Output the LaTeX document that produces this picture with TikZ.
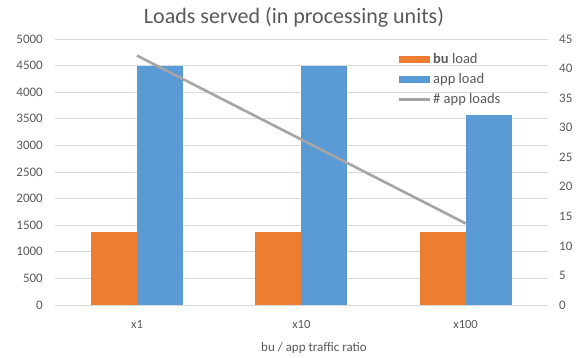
\documentclass[tikz,border=0pt]{standalone}
\usepackage{fontspec}
\setmainfont{Carlito}
\definecolor{txt}{HTML}{595959}
\definecolor{gridc}{HTML}{D9D9D9}
\definecolor{bu}{HTML}{ED7D31}
\definecolor{app}{HTML}{5B9BD5}
\definecolor{cnt}{HTML}{A5A5A5}
\begin{document}
\begin{tikzpicture}[x=1pt,y=1pt,
  tick/.style={text=txt,font=\fontsize{13}{13}\selectfont,inner sep=0pt},
  ltick/.style={tick,anchor=east},
  rtick/.style={tick,anchor=west},
  ctick/.style={tick,anchor=center,font=\fontsize{12.5}{12.5}\selectfont},
  legtext/.style={tick,anchor=west,font=\fontsize{14.5}{14.5}\selectfont},
  gridline/.style={draw=gridc,line width=0.8pt},
  bubar/.style={fill=bu,draw=none},
  appbar/.style={fill=app,draw=none},
  cntline/.style={draw=cnt,line width=2.6pt}]
\useasboundingbox (0,0) rectangle (578,358);
% gridlines and left ticks: y0 = 53, 500 -> 26.6
\foreach \i in {0,...,10}{
  \pgfmathsetmacro{\yy}{53+26.6*\i}
  \pgfmathtruncatemacro{\lv}{500*\i}
  \draw[gridline] (55,\yy) -- (548,\yy);
  \node[ltick] (l\i) at (43,\yy) {\lv};
}
% right ticks: 0..45 over the same height
\foreach \i in {0,...,9}{
  \pgfmathsetmacro{\yy}{53+29.5556*\i}
  \pgfmathtruncatemacro{\rv}{5*\i}
  \node[rtick] (r\i) at (559,\yy) {\rv};
}
% bars
\pgfmathsetmacro{\bu}{53+1378*0.0532}
\fill[bubar] (91,53) rectangle (137,\bu);
\fill[appbar] (137,53) rectangle (183,{53+4500*0.0532});
\fill[bubar] (255.3,53) rectangle (301.3,\bu);
\fill[appbar] (301.3,53) rectangle (347.3,{53+4500*0.0532});
\fill[bubar] (419.6,53) rectangle (465.6,\bu);
\fill[appbar] (465.6,53) rectangle (511.6,{53+3575*0.0532});
% line
\coordinate (p1) at (137,302.4);
\coordinate (p2) at (301.3,218.5);
\coordinate (p3) at (465.6,134.6);
\draw[cntline] (p1) -- (p2) -- (p3);
% category labels
\node[ctick] (c1) at (137,34) {x1};
\node[ctick] (c2) at (301.3,34) {x10};
\node[ctick] (c3) at (465.6,34) {x100};
\node[tick,font=\fontsize{13}{13}\selectfont,anchor=center] (xt) at (314,10) {bu / app traffic ratio};
% title
\node[text=txt,font=\fontsize{22}{22}\selectfont,inner sep=0pt] (title) at (294,341) {Loads served (in processing units)};
% legend
\fill[bubar] (399,295.3) rectangle (430,302.3);
\node[legtext] (lg1) at (433,299.5) {\textbf{bu} load};
\fill[appbar] (399,274.5) rectangle (430,281.5);
\node[legtext] (lg2) at (433,278.5) {app load};
\draw[cnt,line width=2.6pt] (399,258.7) -- (430,258.7);
\node[legtext] (lg3) at (433,258.7) {\# app loads};
\end{tikzpicture}
\end{document}
